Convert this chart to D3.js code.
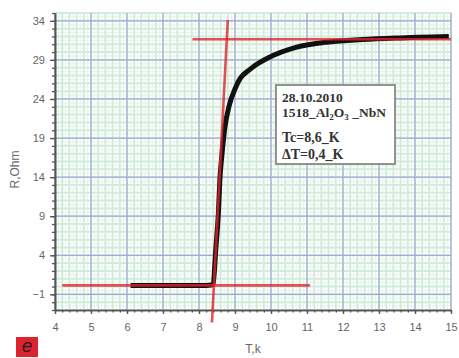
<!DOCTYPE html>
<html>
<head>
<meta charset="utf-8">
<script src="https://cdn.jsdelivr.net/npm/d3@7"></script>
<style>
  body { margin: 0; background: #fff; }
  svg { display: block; }
</style>
</head>
<body>
<svg id="chart"></svg>
<script>
// data: T in K, R in Ohm
const flatT = [6.1, 6.6, 7.2, 7.8, 8.2, 8.35];
const flatR = [0.15, 0.15, 0.15, 0.15, 0.15, 0.2];
const riseT = [8.39, 8.47, 8.54, 8.58, 8.63, 8.72, 8.83, 9.02, 9.14, 9.39, 9.5, 9.94, 10.69, 11.61, 12.53, 13.46, 14.94];
const riseR = [0.3, 5, 9.5, 13.7, 16.5, 20.4, 23, 25.5, 26.6, 27.7, 28.1, 29.3, 30.6, 31.3, 31.6, 31.8, 32.0];

// red construction lines (start, end)
const topLine = [[7.82, 31.65], [15, 31.65]];
const baseLine = [[4.2, 0.15], [11.08, 0.15]];
const steepLine = [[8.8, 34.1], [8.36, -4.6]];

const xTicks = [4, 5, 6, 7, 8, 9, 10, 11, 12, 13, 14, 15];
const yTicks = [-1, 4, 9, 14, 19, 24, 29, 34];
const legendLines = ["28.10.2010", "1518_Al2O3 _NbN", "Tc=8,6_K", "\u0394T=0,4_K"];

const W = 459, H = 358;
const margin = { top: 13, right: 8, bottom: 48, left: 55 };
const iw = W - margin.left - margin.right;
const ih = H - margin.top - margin.bottom;

const svg = d3.select("#chart").attr("width", W).attr("height", H);
const g = svg.append("g").attr("transform", `translate(${margin.left},${margin.top})`);

const x = d3.scaleLinear().domain([4, 15]).range([0, iw]);
const y = d3.scaleLinear().domain([-3, 35]).range([ih, 0]);

// graph paper: fine green lines, then blue major lines
const fineX = d3.range(4, 15.001, 0.2);
const fineY = d3.range(-3, 35.001, 1);
const halfX = d3.range(4.1, 15, 0.2);
const halfY = d3.range(-2.5, 35, 1);
function vlines(vals, color, w) {
  g.append("g").selectAll("line").data(vals).enter().append("line")
    .attr("x1", d => x(d)).attr("x2", d => x(d)).attr("y1", 0).attr("y2", ih)
    .attr("stroke", color).attr("stroke-width", w);
}
function hlines(vals, color, w) {
  g.append("g").selectAll("line").data(vals).enter().append("line")
    .attr("y1", d => y(d)).attr("y2", d => y(d)).attr("x1", 0).attr("x2", iw)
    .attr("stroke", color).attr("stroke-width", w);
}
vlines(halfX, "#e6f4ea", 1);
hlines(halfY, "#e6f4ea", 1);
vlines(fineX, "#d2ecdb", 2);
hlines(fineY, "#d2ecdb", 2);
vlines(xTicks, "#a2a9da", 1.2);
hlines(yTicks, "#a2a9da", 1.2);

// axes
const xAxis = g.append("g").attr("transform", `translate(0,${ih})`)
  .call(d3.axisBottom(x).tickValues(xTicks).tickFormat(d3.format("d")).tickSize(4).tickSizeOuter(0));
g.append("g").attr("transform", `translate(0,${ih})`)
  .call(d3.axisBottom(x).tickValues(fineX).tickFormat("").tickSize(2.5).tickSizeOuter(0));
const yAxis = g.append("g")
  .call(d3.axisLeft(y).tickValues(yTicks).tickFormat(d3.format("d")).tickSize(5).tickSizeOuter(0));
g.append("g")
  .call(d3.axisLeft(y).tickValues(fineY).tickFormat("").tickSize(3).tickSizeOuter(0));

g.selectAll(".domain").attr("stroke", "#555").attr("stroke-width", 1.6);
g.selectAll(".tick line").attr("stroke", "#555").attr("stroke-width", 1.3);
g.selectAll(".tick text").attr("fill", "#666").attr("font-family", "Liberation Sans, Arial, sans-serif").attr("font-size", 11);
xAxis.selectAll(".tick text").attr("dy", "1.25em");
yAxis.selectAll(".tick text").attr("x", -10);

// axis titles
svg.append("text")
  .attr("transform", `translate(19,${margin.top + ih / 2 + 8}) rotate(-90)`)
  .attr("text-anchor", "middle").attr("fill", "#666")
  .attr("font-family", "Liberation Sans, Arial, sans-serif").attr("font-size", 12)
  .text("R,Ohm");
svg.append("text")
  .attr("x", margin.left + iw / 2).attr("y", 353)
  .attr("text-anchor", "middle").attr("fill", "#666")
  .attr("font-family", "Liberation Sans, Arial, sans-serif").attr("font-size", 12)
  .text("T,k");

// measured curve
const curve = flatT.map((t, i) => [t, flatR[i]]).concat(riseT.map((t, i) => [t, riseR[i]]));
const line = d3.line().x(d => x(d[0])).y(d => y(d[1])).curve(d3.curveMonotoneX);
g.append("path").datum(curve)
  .attr("fill", "none").attr("stroke", "#111").attr("stroke-width", 5)
  .attr("stroke-linejoin", "round").attr("d", line);

// red construction lines
const straight = d3.line().x(d => x(d[0])).y(d => y(d[1]));
[topLine, baseLine, steepLine].forEach(seg => {
  g.append("path").datum(seg)
    .attr("fill", "none").attr("stroke", "#e0242a").attr("stroke-opacity", 0.8)
    .attr("stroke-width", 2.6).attr("d", straight);
});

// annotation box
const box = svg.append("g").attr("transform", "translate(276,85)");
box.append("rect").attr("width", 119).attr("height", 79)
  .attr("fill", "#fff").attr("stroke", "#888").attr("stroke-width", 1.8);
const font = "Liberation Serif, Times New Roman, serif";
const rows = [17, 32, 57, 74];
box.append("text").attr("font-family", font).attr("font-weight", "bold")
  .attr("font-size", 13.5).attr("fill", "#333").attr("x", 6).attr("y", rows[0])
  .text(legendLines[0]);
const l2 = box.append("text").attr("font-family", font).attr("font-weight", "bold")
  .attr("font-size", 13.5).attr("fill", "#333").attr("x", 6).attr("y", rows[1]);
l2.append("tspan").text("1518_Al");
l2.append("tspan").attr("font-size", 9).attr("dy", 3).text("2");
l2.append("tspan").attr("dy", -3).text("O");
l2.append("tspan").attr("font-size", 9).attr("dy", 3).text("3");
l2.append("tspan").attr("dy", -3).text(" _NbN");
[2, 3].forEach(i => {
  box.append("text").attr("font-family", font).attr("font-weight", "bold")
    .attr("font-size", 14).attr("fill", "#333").attr("x", 6).attr("y", rows[i])
    .text(legendLines[i]);
});

// panel badge
svg.append("rect").attr("x", 16).attr("y", 337).attr("width", 22).attr("height", 20).attr("fill", "#dc2430");
svg.append("text").attr("x", 27).attr("y", 352).attr("text-anchor", "middle")
  .attr("font-family", "Liberation Sans, Arial, sans-serif").attr("font-style", "italic")
  .attr("font-size", 19).attr("fill", "#2a1a1a").text("e");
</script>
</body>
</html>
